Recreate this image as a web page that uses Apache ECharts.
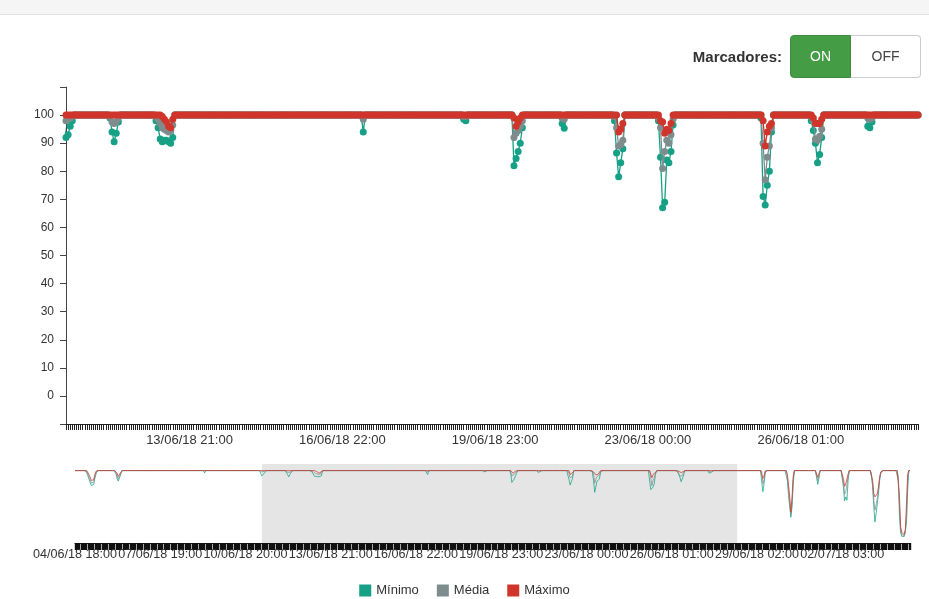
<!DOCTYPE html>
<html>
<head>
<meta charset="utf-8">
<title>Marcadores</title>
<script src="https://cdn.jsdelivr.net/npm/echarts@6/dist/echarts.min.js"></script>
<style>
  html, body { margin: 0; padding: 0; background: #fff; }
  #wrap { position: relative; width: 929px; height: 599px; overflow: hidden; font-family: 'Liberation Sans', Arial, sans-serif; }
  #topbar { position: absolute; left: 0; top: 0; width: 929px; height: 14px; background: #f5f5f5; border-bottom: 1px solid #e2e2e2; z-index: 2; }
  #chart { position: absolute; left: 0; top: 0; width: 929px; height: 599px; }
  #marcadores { position: absolute; right: 8px; top: 35px; height: 43px; display: flex; align-items: center; z-index: 2; }
  #marcadores span { font-weight: bold; font-size: 15px; color: #333; margin-right: 8px; }
  .btn { box-sizing: border-box; height: 43px; line-height: 41px; font-size: 14px; text-align: center; cursor: pointer; border: 1px solid #ccc; background: #fff; color: #444; }
  #btnOn { width: 61px; border-radius: 4px 0 0 4px; }
  #btnOff { width: 70px; border-left: none; border-radius: 0 4px 4px 0; }
  .btn.active { background: #449d44; border-color: #3d8b3d; color: #fff; }
</style>
</head>
<body>
<div id="wrap">
  <div id="topbar"></div>
  <div id="chart"></div>
  <div id="marcadores">
    <span>Marcadores:</span>
    <div id="btnOn" class="btn active">ON</div>
    <div id="btnOff" class="btn">OFF</div>
  </div>
</div>
<script>
// hourly readings, first one at 04/06/18 18:00
const startUtc = Date.UTC(2018, 5, 4, 18, 0)
const totalHours = 716
const labelEvery = 73
// hours shown in the main chart (the brushed window)
const viewFirst = 160
const viewLast = 567
const baseline = 100

const seriesNames = ['Mínimo', 'Média', 'Máximo']

// hours where the values leave 100
const dipHours = [
  10, 11, 12, 13, 14, 15, 16, 17, 18,
  35, 36, 37, 38, 39,
  111,
  159, 160, 161, 162, 163,
  181, 182, 183, 184, 185,
  203, 204, 205, 206, 207, 208, 209, 210, 211,
  302,
  350, 351,
  374, 375, 376, 377, 378,
  397, 398,
  422, 423, 424, 425, 426,
  443, 444, 445, 446, 447, 448, 449, 450,
  492, 493, 494, 495, 496, 497,
  516, 517, 518, 519, 520, 521,
  543, 544, 545,
  588, 589, 590, 591,
  610, 611, 612, 613, 614, 615,
  635, 636, 637,
  657, 658, 659, 660, 661, 662,
  682, 683, 684, 685, 686, 687, 688, 689, 690,
  705, 706, 707, 708, 709, 710, 711, 712, 713,
]
const dipMinimo = [
  97, 92, 87, 82, 77, 74, 79, 88, 95,
  96, 88, 84, 86, 93,
  96.5,
  97, 92, 93, 96, 98,
  99, 94, 90.5, 93.5, 97.5,
  98, 95.5, 91.5, 90.5, 91, 91, 90.5, 90, 92,
  94,
  98.5, 98,
  82, 84.5, 87, 90, 95.5,
  97, 95.3,
  98, 86.5, 78, 83, 88,
  98, 85, 67, 69, 84, 83, 87, 96.5,
  99, 71, 68, 75, 80, 94,
  98, 94.5, 90, 83, 86, 92,
  96, 95.5, 97.5,
  98, 68, 80, 96,
  85, 62, 45, 29, 45, 80,
  97, 79, 88,
  98, 75, 54, 60, 55, 85,
  95, 75, 45, 22, 35, 50, 65, 85, 96,
  85, 30, 5, 0, 0, 0, 2, 20, 70,
]
const dipMedia = [
  99, 95, 90, 86, 81, 79, 83, 91, 97,
  98, 92, 87, 89, 95,
  99,
  99, 98, 98.5, 99, 99.5,
  99.5, 97.5, 97, 97.5, 99,
  99.5, 98.5, 97, 95.5, 95, 94.5, 94, 94.5, 96.5,
  98.5,
  99.5, 99.5,
  92, 93.5, 94.5, 96, 98,
  99, 98.5,
  99.5, 95.5, 89, 89.5, 91,
  99, 95.5, 81, 87, 91, 90, 93, 98.5,
  100, 90, 77, 85, 89, 95.5,
  99.5, 98, 91.5, 91, 92.5, 95,
  99, 98.5, 99,
  99.5, 80, 86, 98,
  90, 70, 52, 33, 52, 86,
  99, 85, 92,
  99, 82, 64, 68, 65, 90,
  97, 80, 55, 40, 48, 58, 70, 88, 97,
  92, 45, 10, 3, 2, 1, 5, 35, 85,
]
const dipMaximo = [
  100, 98, 94, 90, 85, 82, 86, 94, 99,
  99, 96, 91, 93, 97,
  100,
  100, 100, 100, 100, 100,
  100, 100, 100, 100, 100,
  100, 100, 100, 99.5, 98.5, 97.5, 96, 95.5, 98.5,
  100,
  100, 100,
  99, 96, 97.5, 99, 100,
  100, 100,
  100, 100, 94, 95, 97,
  100, 98, 97.5, 93.5, 95, 94.5, 97, 100,
  100, 98, 89, 94, 96, 97,
  100, 99, 97, 97, 97, 98.5,
  100, 100, 100,
  100, 88, 92, 99.5,
  95, 78, 60, 37, 60, 92,
  100, 90, 95,
  100, 88, 76, 80, 77, 95,
  99, 85, 65, 60, 62, 65, 75, 90, 98,
  97, 60, 15, 6, 4, 3, 10, 50, 95,
]

const colors = ['#16a085', '#7f8c8d', '#d0352b']
const font = "'Liberation Sans', Arial, sans-serif"

function pad(n) {
  return n < 10 ? '0' + n : '' + n
}

const categories = []
for (let h = 0; h < totalHours; h++) {
  const d = new Date(startUtc + h * 3600000)
  categories.push(pad(d.getUTCDate()) + '/' + pad(d.getUTCMonth() + 1) + '/' + pad(d.getUTCFullYear() % 100) +
    ' ' + pad(d.getUTCHours()) + ':' + pad(d.getUTCMinutes()))
}

function buildSeries(dipValues) {
  const arr = new Array(totalHours).fill(baseline)
  dipHours.forEach((h, k) => { arr[h] = dipValues[k] })
  return arr
}

const seriesData = [buildSeries(dipMinimo), buildSeries(dipMedia), buildSeries(dipMaximo)]

const chart = echarts.init(document.getElementById('chart'))

const mainSeries = seriesNames.map((name, k) => ({
  id: 'main' + k,
  name,
  type: 'line',
  xAxisIndex: 0,
  yAxisIndex: 0,
  data: seriesData[k],
  symbol: 'circle',
  symbolSize: 7,
  showSymbol: true,
  showAllSymbol: true,
  lineStyle: { width: 1.3, color: colors[k] },
  itemStyle: { color: colors[k] },
  emphasis: { disabled: true },
  z: 2 + k,
}))

const subSeries = seriesNames.map((name, k) => ({
  name,
  type: 'line',
  xAxisIndex: 1,
  yAxisIndex: 1,
  data: seriesData[k],
  showSymbol: false,
  silent: true,
  lineStyle: { width: 1, color: colors[k], opacity: 0.75 },
  itemStyle: { color: colors[k] },
  emphasis: { disabled: true },
  markArea: k === 0 ? {
    silent: true,
    itemStyle: { color: 'rgba(0,0,0,0.1)' },
    data: [[{ xAxis: categories[viewFirst] }, { xAxis: categories[viewLast] }]],
  } : undefined,
}))

const xLabel = {
  interval: (i) => i % labelEvery === 0,
  color: '#333',
  fontFamily: font,
  hideOverlap: false,
  showMinLabel: true,
  showMaxLabel: true,
}

const options = {
  animation: false,
  textStyle: { fontFamily: font },
  tooltip: { trigger: 'axis' },
  legend: {
    data: seriesNames,
    left: 'center',
    top: 579,
    icon: 'rect',
    itemWidth: 12,
    itemHeight: 12,
    itemGap: 18,
    textStyle: { fontSize: 13, color: '#333', fontFamily: font },
  },
  grid: [
    { left: 66, right: 11, top: 87, height: 337, outerBoundsMode: 'none' },
    { left: 75, right: 19, top: 464, height: 79, outerBoundsMode: 'none' },
  ],
  xAxis: [
    {
      type: 'category',
      gridIndex: 0,
      data: categories,
      boundaryGap: false,
      min: viewFirst,
      max: viewLast,
      axisLine: { onZero: false, lineStyle: { color: '#222' } },
      axisTick: { interval: 0, length: 6, lineStyle: { color: '#222' } },
      axisLabel: Object.assign({ margin: 10, fontSize: 13 }, xLabel),
      splitLine: { show: false },
    },
    {
      type: 'category',
      gridIndex: 1,
      data: categories,
      boundaryGap: false,
      axisLine: { onZero: false, lineStyle: { color: '#222' } },
      axisTick: { interval: 0, length: 7, lineStyle: { color: '#111', width: 1.4 } },
      // labels sit almost edge to edge here, a hair smaller keeps them all visible
      axisLabel: Object.assign({ margin: 5, fontSize: 12.6 }, xLabel),
      splitLine: { show: false },
    },
  ],
  yAxis: [
    {
      type: 'value',
      gridIndex: 0,
      min: -10,
      max: 110,
      interval: 10,
      axisLine: { show: true, lineStyle: { color: '#444' } },
      axisTick: { show: true, length: 6, lineStyle: { color: '#444' } },
      axisLabel: {
        fontSize: 12,
        color: '#333',
        margin: 12,
        fontFamily: font,
        formatter: (v) => (v < 0 || v > 100 ? '' : String(v)),
      },
      splitLine: { show: false },
    },
    { type: 'value', gridIndex: 1, min: -10, max: 110, show: false },
  ],
  series: mainSeries.concat(subSeries),
}

chart.setOption(options)

function setMarkers(on) {
  document.getElementById('btnOn').classList.toggle('active', on)
  document.getElementById('btnOff').classList.toggle('active', !on)
  chart.setOption({ series: seriesNames.map((n, k) => ({ id: 'main' + k, showSymbol: on })) })
}
document.getElementById('btnOn').addEventListener('click', () => setMarkers(true))
document.getElementById('btnOff').addEventListener('click', () => setMarkers(false))

window.addEventListener('resize', () => chart && chart.resize())
</script>
</body>
</html>
